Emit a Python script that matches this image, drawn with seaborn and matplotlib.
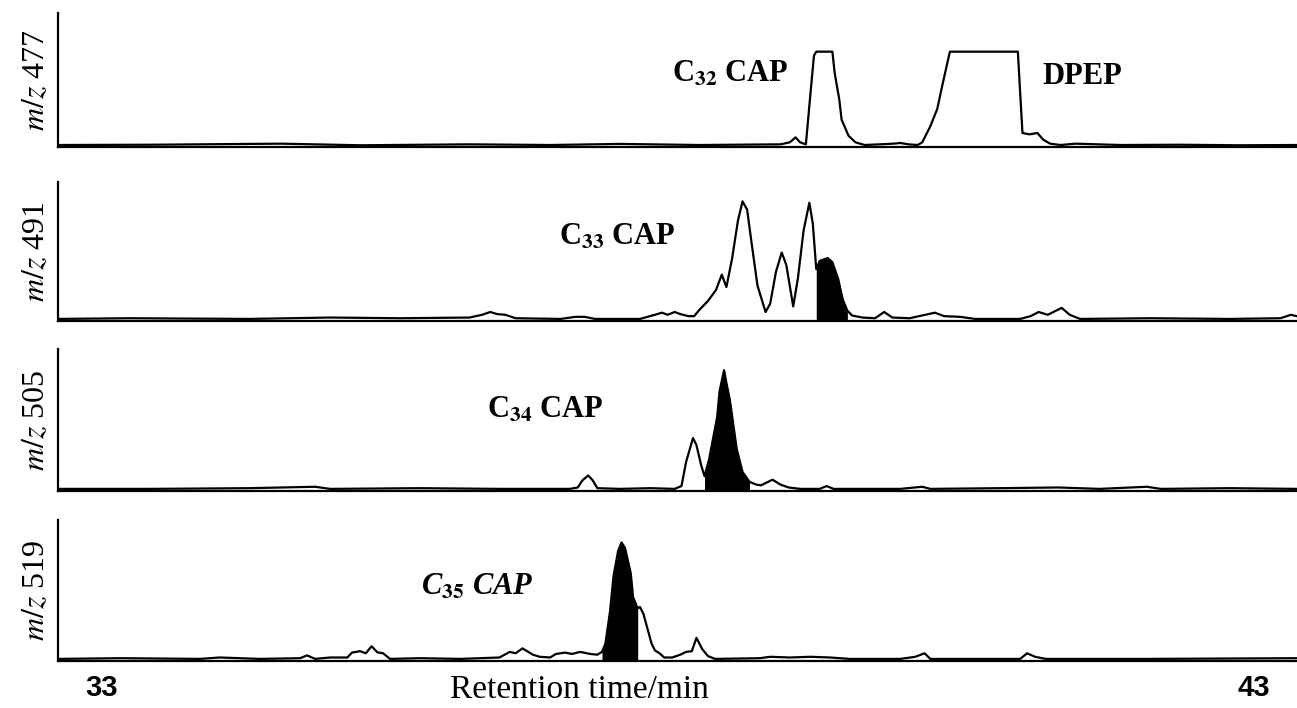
import matplotlib
matplotlib.use("Agg")
import numpy as np
import pandas as pd
import seaborn as sns
import matplotlib.pyplot as plt

# ---------------- data (retention time in min, relative intensity) ----------------
channels = ["477", "491", "505", "519"]

t_477 = [32.62, 33.42, 34.55, 35.24, 36.19, 36.89, 37.50, 38.19, 38.89, 38.97, 39.02, 39.06,
         39.11, 39.15, 39.18, 39.20, 39.34, 39.36, 39.40, 39.42, 39.48, 39.54, 39.62, 39.75,
         39.87, 39.93, 40.00, 40.08, 40.12, 40.19, 40.25, 40.30, 40.36, 40.95, 40.97, 40.99,
         41.05, 41.12, 41.17, 41.23, 41.32, 41.45, 41.84, 42.36, 42.88, 43.37]
i_477 = [1.0, 1.2, 2.0, 0.8, 1.5, 1.0, 1.8, 1.0, 1.5, 3.0, 6.7, 3.0,
         1.5, 40.0, 68.0, 71.0, 71.0, 55.0, 35.0, 20.0, 8.0, 3.0, 1.0, 1.5,
         2.0, 2.5, 1.5, 1.0, 3.0, 15.0, 28.0, 48.0, 71.0, 71.0, 40.0, 10.0,
         9.0, 10.0, 5.0, 2.0, 1.0, 2.0, 1.0, 1.2, 0.8, 1.0]

t_491 = [32.62, 33.24, 34.28, 34.98, 35.59, 36.19, 36.30, 36.37, 36.43, 36.50, 36.59, 36.98,
         37.11, 37.19, 37.28, 37.67, 37.80, 37.86, 37.91, 37.97, 38.02, 38.09, 38.14, 38.19,
         38.26, 38.33, 38.38, 38.42, 38.47, 38.52, 38.56, 38.60, 38.64, 38.69, 38.76, 38.80,
         38.85, 38.90, 38.94, 39.00, 39.04, 39.09, 39.14, 39.17, 39.20, 39.23, 39.30, 39.34,
         39.39, 39.43, 39.47, 39.51, 39.60, 39.71, 39.79, 39.86, 40.01, 40.23, 40.31, 40.45,
         40.58, 40.97, 41.06, 41.13, 41.21, 41.33, 41.40, 41.49, 42.10, 42.79, 43.23, 43.32,
         43.37]
i_491 = [1.0, 1.5, 1.0, 2.0, 1.5, 2.0, 4.0, 6.0, 4.5, 4.0, 1.5, 1.0,
         2.5, 2.5, 1.0, 1.0, 4.0, 5.5, 4.0, 6.0, 4.5, 3.0, 3.0, 8.0,
         14.0, 22.0, 33.0, 24.0, 45.0, 72.0, 86.0, 80.0, 55.0, 25.0, 6.0, 12.0,
         35.0, 49.0, 40.0, 10.0, 30.0, 65.0, 85.0, 70.0, 37.0, 43.0, 45.0, 42.0,
         30.0, 15.0, 7.0, 3.5, 2.0, 1.5, 6.0, 2.0, 1.5, 5.5, 3.0, 2.5,
         1.0, 1.0, 3.0, 6.0, 4.0, 9.0, 4.0, 1.0, 1.5, 1.0, 1.5, 4.0,
         3.0]

t_505 = [32.62, 33.42, 34.28, 34.85, 34.98, 35.76, 36.45, 37.06, 37.13, 37.17, 37.22, 37.26,
         37.30, 37.50, 37.76, 37.97, 38.03, 38.07, 38.13, 38.16, 38.20, 38.23, 38.27, 38.34,
         38.36, 38.40, 38.42, 38.45, 38.51, 38.56, 38.62, 38.68, 38.72, 38.82, 38.89, 38.96,
         39.06, 39.23, 39.29, 39.35, 39.93, 40.12, 40.19, 40.80, 41.30, 41.66, 42.07, 42.19,
         42.79, 43.37]
i_505 = [1.0, 1.0, 1.5, 2.5, 1.0, 1.5, 1.0, 1.0, 2.0, 7.0, 10.5, 7.0,
         1.5, 1.0, 1.5, 1.0, 3.0, 20.0, 37.0, 32.0, 18.0, 10.0, 22.0, 52.0,
         70.0, 85.0, 76.0, 64.0, 29.0, 13.0, 6.0, 4.0, 3.5, 7.5, 4.0, 2.0,
         1.0, 1.0, 3.0, 1.0, 1.0, 2.5, 1.0, 1.5, 2.0, 1.0, 2.5, 1.0,
         1.5, 1.0]

t_519 = [32.62, 33.16, 33.85, 34.02, 34.37, 34.72, 34.78, 34.85, 34.98, 35.13, 35.17, 35.24,
         35.29, 35.34, 35.39, 35.44, 35.50, 35.76, 36.11, 36.45, 36.54, 36.59, 36.65, 36.70,
         36.74, 36.80, 36.89, 36.94, 37.02, 37.08, 37.15, 37.24, 37.30, 37.34, 37.37, 37.41,
         37.44, 37.48, 37.51, 37.54, 37.59, 37.61, 37.65, 37.67, 37.70, 37.73, 37.77, 37.80,
         37.84, 37.88, 37.95, 38.02, 38.07, 38.12, 38.16, 38.21, 38.26, 38.32, 38.71, 38.80,
         38.97, 39.15, 39.32, 39.49, 39.93, 40.06, 40.14, 40.19, 40.97, 41.03, 41.10, 41.19,
         42.10, 43.37]
i_519 = [1.0, 1.5, 1.0, 2.0, 1.0, 1.5, 3.5, 1.0, 2.0, 2.0, 5.5, 6.5,
         5.0, 10.0, 5.7, 5.0, 1.0, 1.5, 1.0, 2.0, 6.0, 5.0, 8.5, 6.0,
         4.0, 2.5, 2.0, 4.5, 5.5, 4.5, 6.0, 4.5, 4.0, 6.0, 12.0, 35.0,
         60.0, 78.0, 84.0, 80.0, 62.0, 45.0, 37.0, 38.0, 33.0, 24.0, 12.0, 7.0,
         5.0, 2.0, 2.0, 4.0, 6.0, 6.5, 16.0, 8.0, 3.0, 1.0, 1.5, 2.5,
         2.0, 2.5, 2.0, 1.0, 1.0, 2.5, 5.0, 1.0, 1.0, 5.0, 2.5, 1.0,
         1.0, 1.5]

# shaded (black) peak windows, retention time in min
shade_windows = {"477": None, "491": (39.20, 39.47), "505": (38.23, 38.62), "519": (37.34, 37.65)}

peak_labels = {"477": [("C$_{\\mathbf{32}}$ CAP", 38.45, 54, "normal"), ("DPEP", 41.51, 52, "normal")],
               "491": [("C$_{\\mathbf{33}}$ CAP", 37.47, 60, "normal")],
               "505": [("C$_{\\mathbf{34}}$ CAP", 36.85, 57, "normal")],
               "519": [("C$_{\\mathit{\\mathbf{35}}}$ CAP", 36.26, 52, "italic")]}

x_ticks = [33, 43]
x_tick_labels = ["33", "43"]
x_title = "Retention time/min"

traces = {"477": (t_477, i_477), "491": (t_491, i_491), "505": (t_505, i_505), "519": (t_519, i_519)}

# ---------------- style ----------------
sns.set_style("white")
plt.rcParams['font.family'] = ['Liberation Serif', 'DejaVu Serif']
plt.rcParams['mathtext.fontset'] = 'stix'
plt.rcParams['text.color'] = 'black'
plt.rcParams['axes.labelcolor'] = 'black'
plt.rcParams['xtick.color'] = 'black'
plt.rcParams['ytick.color'] = 'black'

W, H = 1297, 708
fig = plt.figure(figsize=(W / 100, H / 100), dpi=100)

# panel pixel boxes (top, bottom)
rows = [(13, 147), (182, 321), (349, 491), (520, 661)]
left_px = 58

for k, ch in enumerate(channels):
    top, bot = rows[k]
    ax = fig.add_axes([left_px / W, 1 - bot / H, (W - left_px) / W, (bot - top) / H])
    t, inten = traces[ch]
    df = pd.DataFrame({"t": t, "i": inten})
    sns.lineplot(data=df, x="t", y="i", ax=ax, color="black", lw=1.6, estimator=None, sort=False)
    win = shade_windows[ch]
    if win is not None:
        tt = np.array(t)
        mask = (tt >= win[0] - 1e-9) & (tt <= win[1] + 1e-9)
        ax.fill_between(tt, 0, inten, where=mask, color="black", lw=0)
    ax.set_xlim(32.618, 43.373)
    ax.set_ylim(-0.5, 100)
    for s in ["top", "right"]:
        ax.spines[s].set_visible(False)
    for s in ["left", "bottom"]:
        ax.spines[s].set_linewidth(1.6)
        ax.spines[s].set_color("black")
    ax.set_yticks([])
    ax.set_ylabel(f"$m/z$ {ch}", fontsize=23, va="center", color="black")
    ax.yaxis.set_label_coords(-0.017, 0.5)
    for txt, tx, ty, style in peak_labels[ch]:
        ax.text(tx, ty, txt, fontsize=22, fontweight="bold", style=style,
                ha="center", va="center", color="black")
    if k == len(channels) - 1:
        ax.set_xticks(x_ticks)
        ax.set_xticklabels(x_tick_labels, fontsize=21, fontweight="bold",
                           family=["Liberation Sans", "DejaVu Sans"], color="black")
        ax.tick_params(axis="x", length=0, pad=9)
        ax.set_xlabel(x_title, fontsize=24, va="center", color="black")
        ax.xaxis.set_label_coords(0.421, -0.206)
    else:
        ax.set_xticks([])
        ax.set_xlabel("")

fig.savefig("out.png", dpi=100)
